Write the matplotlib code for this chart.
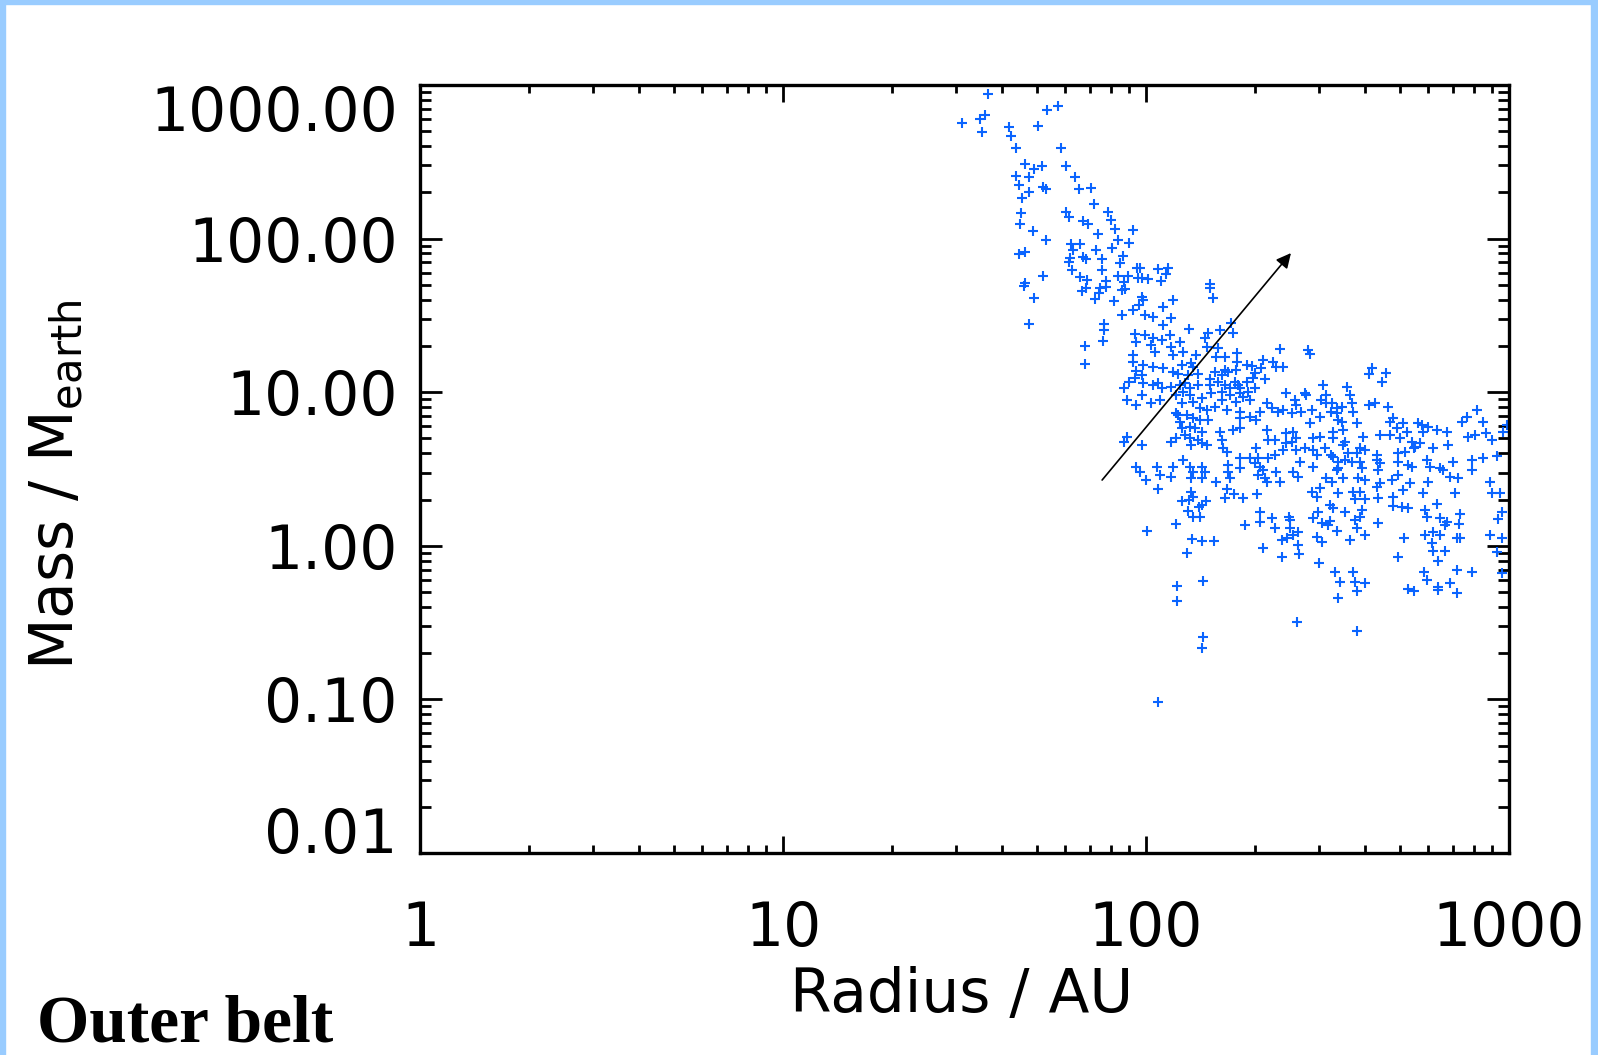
import matplotlib
matplotlib.use("Agg")
import matplotlib.pyplot as plt
from matplotlib.patches import Rectangle
from matplotlib.ticker import NullFormatter
import numpy as np

plt.rcParams["font.family"] = ["DejaVu Sans"]

# ── data: (log10 radius/AU, log10 mass/Mearth) ──
upper = np.array([
    [1.565, 2.941], [1.758, 2.863], [1.727, 2.837], [1.556, 2.805], [1.543, 2.779],
    [1.493, 2.753], [1.548, 2.694], [1.623, 2.727], [1.702, 2.733], [1.628, 2.668],
    [1.642, 2.590], [1.766, 2.590], [1.667, 2.486], [1.691, 2.453], [1.713, 2.473],
    [1.780, 2.473], [1.642, 2.408], [1.678, 2.401], [1.804, 2.401], [1.650, 2.349],
    [1.716, 2.336], [1.725, 2.323], [1.678, 2.303], [1.815, 2.323], [1.848, 2.329],
    [1.658, 2.264], [1.857, 2.225], [1.656, 2.167], [1.780, 2.173], [1.788, 2.141],
    [1.895, 2.173], [1.653, 2.095], [1.826, 2.115], [1.840, 2.095], [1.904, 2.121],
    [1.689, 2.049], [1.915, 2.062], [1.964, 2.056], [1.868, 2.030], [1.725, 1.991],
    [1.923, 1.991], [1.953, 1.971], [1.793, 1.965], [1.818, 1.965], [1.650, 1.900],
    [1.667, 1.913], [1.799, 1.926], [1.862, 1.926], [1.906, 1.939], [1.791, 1.874],
    [1.826, 1.880], [1.835, 1.867], [1.879, 1.867], [1.937, 1.887], [1.928, 1.841],
    [1.975, 1.809], [1.788, 1.846], [1.879, 1.796], [1.796, 1.796], [1.716, 1.757],
    [1.667, 1.711], [1.818, 1.750], [1.837, 1.730], [1.923, 1.757], [1.950, 1.757],
    [1.890, 1.724], [1.939, 1.717], [1.978, 1.743],
    [1.983, 1.809], [2.033, 1.802], [2.061, 1.809], [2.055, 1.770], [1.989, 1.743],
    [2.006, 1.737], [2.041, 1.724], [2.176, 1.704],
])

left_mid = np.array([
    [1.664, 1.691], [1.691, 1.613], [1.678, 1.444], [1.824, 1.659], [1.835, 1.678],
    [1.873, 1.678], [1.890, 1.685], [1.871, 1.646], [1.860, 1.607], [1.934, 1.665],
    [1.942, 1.672], [1.912, 1.594], [1.934, 1.503], [1.964, 1.535], [1.981, 1.568],
    [1.884, 1.444], [1.884, 1.405], [1.882, 1.333], [1.832, 1.301], [1.832, 1.184],
    [1.970, 1.379], [1.972, 1.327], [1.964, 1.242], [1.964, 1.197], [1.972, 1.138],
    [1.970, 1.092], [1.953, 1.066], [1.939, 1.027], [1.948, 0.949], [1.972, 0.917],
    [1.948, 0.708], [1.939, 0.676], [1.972, 0.513],
    [2.033, 0.370], [2.124, 0.350], [2.129, 0.318], [2.099, 0.292], [2.118, 0.298],
    [2.165, 0.292], [2.154, 0.266], [2.146, 0.253], [2.116, 0.227], [2.129, 0.188],
    [2.149, 0.188], [2.218, 0.311], [2.242, 0.337], [2.223, 0.370], [2.083, 0.142],
    [2.003, 0.096], [2.127, 0.044], [2.154, 0.031], [2.187, 0.031], [2.113, -0.047],
    [2.157, -0.229], [2.085, -0.262], [2.085, -0.359], [2.157, -0.594], [2.154, -0.665],
    [2.033, -1.017],
])

core = np.array([
    [2.176, 1.681], [2.185, 1.611], [1.988, 1.622], [1.992, 1.600], [2.075, 1.600],
    [2.070, 1.481], [2.047, 1.557], [1.997, 1.503], [2.020, 1.492], [2.047, 1.438],
    [2.119, 1.409], [2.203, 1.405], [2.240, 1.383], [2.235, 1.448], [2.171, 1.383],
    [2.162, 1.351], [2.066, 1.372], [1.997, 1.372], [2.020, 1.351], [2.043, 1.340],
    [2.093, 1.329], [2.015, 1.307], [2.070, 1.297], [2.024, 1.264], [2.075, 1.242],
    [2.102, 1.264], [2.139, 1.242], [2.167, 1.297], [2.199, 1.286], [2.194, 1.231],
    [2.217, 1.231], [2.251, 1.253], [2.251, 1.199], [2.369, 1.279], [2.447, 1.275],
    [2.453, 1.249], [2.321, 1.210], [2.350, 1.199], [2.378, 1.166], [2.358, 1.166],
    [2.277, 1.177], [2.291, 1.171], [2.249, 1.145], [2.318, 1.156], [1.992, 1.177],
    [2.020, 1.166], [2.047, 1.156], [2.098, 1.177], [2.125, 1.188], [2.130, 1.166],
    [2.190, 1.134], [2.217, 1.145], [2.226, 1.134], [2.208, 1.112], [2.075, 1.129],
    [2.089, 1.116], [2.116, 1.112], [2.144, 1.116], [1.988, 1.112], [2.300, 1.123],
    [2.295, 1.095], [2.327, 1.084], [2.277, 1.069], [2.254, 1.047], [2.245, 1.069],
    [1.992, 1.058], [2.020, 1.047], [2.033, 1.058], [2.043, 1.025], [2.070, 1.036],
    [2.093, 1.047], [2.107, 1.058], [2.121, 1.025], [2.144, 1.047], [2.176, 1.086],
    [2.176, 1.047], [2.199, 1.069], [2.217, 1.047], [2.231, 1.025], [2.258, 1.025],
    [2.281, 1.004], [2.300, 1.025], [2.268, 0.971], [2.286, 0.949], [2.249, 0.938],
    [2.258, 0.993], [2.387, 0.993], [2.442, 0.982], [2.437, 0.993], [2.488, 1.047],
    [2.497, 0.982], [2.483, 0.949], [2.410, 0.949], [2.414, 0.917], [2.378, 0.884],
    [2.346, 0.895], [2.332, 0.928], [2.313, 0.873], [2.304, 0.819], [2.364, 0.873],
    [2.401, 0.863], [2.428, 0.873], [2.456, 0.884], [2.479, 0.841], [2.497, 0.928],
    [2.511, 0.873], [2.525, 0.895], [1.988, 0.982], [2.015, 0.928], [2.038, 0.949],
    [2.084, 0.982], [2.102, 1.004], [2.121, 0.982], [2.153, 0.960], [2.180, 0.993],
    [2.208, 1.004], [2.231, 0.982], [2.098, 0.928], [2.130, 0.938], [2.148, 0.895],
    [2.167, 0.884], [2.190, 0.906], [2.222, 0.884], [2.208, 0.949], [2.258, 0.873],
    [2.286, 0.841], [2.258, 0.830], [2.084, 0.863], [2.089, 0.852], [2.112, 0.852],
    [2.130, 0.830], [2.148, 0.819], [2.093, 0.808], [2.121, 0.776], [2.134, 0.765],
    [2.153, 0.743], [2.171, 0.819], [2.203, 0.743], [2.240, 0.754], [2.258, 0.765],
    [2.098, 0.765], [2.107, 0.722], [2.084, 0.700], [2.070, 0.678], [2.121, 0.700],
    [2.144, 0.689], [2.125, 0.656], [2.153, 0.667], [2.167, 0.656], [2.208, 0.689],
    [2.213, 0.635], [2.222, 0.613], [2.258, 0.570], [2.286, 0.570], [2.309, 0.570],
    [2.300, 0.537], [2.313, 0.515], [2.336, 0.570], [2.355, 0.591], [2.378, 0.624],
    [2.401, 0.678], [2.414, 0.700], [2.387, 0.667], [2.414, 0.624], [2.437, 0.635],
    [2.460, 0.624], [2.470, 0.591], [2.492, 0.635], [2.515, 0.700], [2.511, 0.591],
    [2.460, 0.700], [2.479, 0.711], [2.451, 0.797], [2.387, 0.732], [2.405, 0.743],
    [2.332, 0.754], [2.336, 0.689], [2.355, 0.689], [2.304, 0.635], [2.323, 0.494],
    [2.327, 0.439], [2.309, 0.461], [2.332, 0.418], [2.359, 0.483], [2.369, 0.418],
    [2.405, 0.483], [2.419, 0.450], [2.424, 0.548], [2.460, 0.515], [2.497, 0.439],
    [2.525, 0.494], [2.529, 0.548], [1.988, 0.656], [1.983, 0.483], [2.029, 0.515],
    [2.038, 0.461], [2.070, 0.450], [2.001, 0.429], [2.075, 0.515], [2.102, 0.559],
    [2.121, 0.515], [2.130, 0.483], [2.125, 0.439], [2.153, 0.515], [2.162, 0.483],
    [2.153, 0.439], [2.226, 0.526], [2.226, 0.483], [2.231, 0.439], [2.194, 0.418],
    [2.258, 0.504],
])

right_mid = np.array([
    [2.622, 1.156], [2.615, 1.119], [2.661, 1.123], [2.651, 1.064], [2.555, 1.032],
    [2.562, 0.982], [2.567, 0.928], [2.571, 0.873], [2.512, 0.928], [2.539, 0.906],
    [2.525, 0.863], [2.530, 0.819], [2.539, 0.808], [2.580, 0.797], [2.613, 0.917],
    [2.631, 0.928], [2.668, 0.906], [2.681, 0.830], [2.672, 0.808], [2.709, 0.797],
    [2.691, 0.765], [2.750, 0.797], [2.759, 0.787], [2.778, 0.776], [2.801, 0.754],
    [2.828, 0.743], [2.764, 0.743], [2.718, 0.743], [2.516, 0.743], [2.544, 0.754],
    [2.645, 0.722], [2.672, 0.722], [2.700, 0.700], [2.732, 0.678], [2.755, 0.667],
    [2.737, 0.635], [2.741, 0.646], [2.792, 0.635], [2.833, 0.656], [2.599, 0.711],
    [2.548, 0.678], [2.544, 0.656], [2.590, 0.635], [2.603, 0.624], [2.580, 0.602],
    [2.557, 0.602], [2.516, 0.580], [2.548, 0.559], [2.567, 0.548], [2.590, 0.548],
    [2.594, 0.504], [2.636, 0.591], [2.636, 0.559], [2.645, 0.537], [2.640, 0.494],
    [2.695, 0.602], [2.714, 0.613], [2.695, 0.548], [2.723, 0.526], [2.732, 0.515],
    [2.773, 0.559], [2.782, 0.515], [2.810, 0.504], [2.819, 0.494], [2.847, 0.548],
    [2.530, 0.504], [2.512, 0.418], [2.544, 0.439], [2.585, 0.439], [2.603, 0.429],
    [2.645, 0.407], [2.677, 0.429], [2.695, 0.461], [2.727, 0.407], [2.778, 0.418],
    [2.837, 0.450], [2.860, 0.439], [2.911, 0.884], [2.883, 0.841], [2.870, 0.808],
    [2.929, 0.808], [2.888, 0.711], [2.906, 0.722], [2.938, 0.732], [2.952, 0.689],
    [2.984, 0.743], [2.994, 0.787], [2.897, 0.559], [2.929, 0.570], [2.966, 0.587],
    [2.948, 0.418], [2.897, 0.494],
])

lower = np.array([
    [2.266, 0.314], [2.273, 0.136], [2.314, 0.222], [2.314, 0.157], [2.305, 0.335],
    [2.346, 0.179], [2.355, 0.114], [2.395, 0.190], [2.397, 0.168], [2.397, 0.114],
    [2.374, 0.038], [2.388, 0.049], [2.406, 0.071], [2.420, 0.092], [2.420, 0.005],
    [2.422, -0.055], [2.321, -0.016], [2.374, -0.071], [2.461, 0.179], [2.475, 0.222],
    [2.484, 0.146], [2.502, 0.136], [2.507, 0.162], [2.527, 0.097], [2.548, 0.222],
    [2.576, 0.168], [2.580, 0.114], [2.594, 0.233], [2.589, 0.190], [2.470, 0.060],
    [2.484, 0.027], [2.562, 0.038], [2.603, 0.071], [2.477, -0.114], [2.521, -0.173],
    [2.534, -0.238], [2.571, -0.173], [2.576, -0.238], [2.603, -0.244], [2.582, -0.294],
    [2.530, -0.342], [2.417, -0.494], [2.582, -0.552], [2.639, 0.146], [2.681, 0.320],
    [2.681, 0.261], [2.704, 0.255], [2.723, 0.248], [2.768, 0.233], [2.773, 0.190],
    [2.801, 0.270], [2.810, 0.179], [2.828, 0.157], [2.824, 0.136], [2.865, 0.205],
    [2.863, 0.140], [2.856, 0.049], [2.865, 0.053], [2.810, 0.071], [2.768, 0.071],
    [2.791, 0.092], [2.787, 0.016], [2.790, -0.034], [2.824, -0.034], [2.805, -0.099],
    [2.711, 0.053], [2.695, -0.071], [2.767, -0.168], [2.773, -0.222], [2.805, -0.266],
    [2.805, -0.288], [2.837, -0.244], [2.856, -0.157], [2.856, -0.309], [2.897, -0.173],
    [2.723, -0.283], [2.738, -0.294], [2.947, 0.071], [2.966, -0.038], [2.980, -0.179],
    [2.980, 0.222], [2.970, 0.172], [2.982, 0.049], [2.952, 0.342], [2.975, 0.342],
    [2.640, 0.309], [2.603, 0.305], [2.576, 0.305], [2.507, 0.266], [2.516, 0.244],
    [2.479, 0.374], [2.470, 0.320], [2.456, 0.353], [2.530, 0.342], [2.571, 0.353],
    [2.589, 0.353], [2.635, 0.385], [2.709, 0.363], [2.764, 0.342], [2.851, 0.342],
])

# arrow: tail and head (radius AU, mass Mearth)
arrow_tail = (75.7, 2.68)
arrow_head = (250.8, 80.5)

x_ticks = [1, 10, 100, 1000]
x_ticklabels = ["1", "10", "100", "1000"]
y_ticks = [0.01, 0.1, 1, 10, 100, 1000]
y_ticklabels = ["0.01", "0.10", "1.00", "10.00", "100.00", "1000.00"]

pts = np.vstack([upper, left_mid, core, right_mid, lower])
radius = 10 ** pts[:, 0]
mass = 10 ** pts[:, 1]

W, H = 1598, 1055
fig = plt.figure(figsize=(W / 100, H / 100), dpi=100)
fig.patch.set_facecolor("white")
ax = fig.add_axes([420 / W, 1 - 853 / H, 1089 / W, 768 / H])

ax.plot(radius, mass, linestyle="none", marker="+", ms=7, mew=1.5,
        color="#0a64ff")

ax.annotate("", xy=arrow_head, xytext=arrow_tail,
            arrowprops=dict(arrowstyle="-|>", color="black", lw=1.2,
                            mutation_scale=22, shrinkA=0, shrinkB=0))

ax.set_xscale("log")
ax.set_yscale("log")
ax.set_xlim(1, 1000)
ax.set_ylim(0.01, 1000)
ax.set_xticks(x_ticks)
ax.set_xticklabels(x_ticklabels)
ax.set_yticks(y_ticks)
ax.set_yticklabels(y_ticklabels)
ax.xaxis.set_minor_formatter(NullFormatter())
ax.yaxis.set_minor_formatter(NullFormatter())

for s in ax.spines.values():
    s.set_linewidth(2.4)
ax.tick_params(which="both", direction="in", top=True, right=True,
               width=2.0, labelsize=43, colors="black")
ax.tick_params(axis="x", which="major", length=12, pad=34)
ax.tick_params(axis="x", which="minor", length=6)
ax.tick_params(axis="y", which="major", length=16, pad=16)
ax.tick_params(axis="y", which="minor", length=8)

ylabs = ax.get_yticklabels()
ylabs[-1].set_va("top")
ylabs[0].set_va("baseline")

fig.text(962 / W, 1 - 996 / H, "Radius / AU", ha="center", va="center",
         fontsize=43)
fig.text(57 / W, 1 - 485 / H, r"Mass / $\mathregular{M_{earth}}$",
         ha="center", va="center", rotation=90, fontsize=43)

fig.text(37 / W, 1 - 1042 / H, "Outer belt", family="Liberation Serif",
         fontweight="bold", fontsize=48.5, ha="left", va="baseline")

# light blue frame
blue = "#99ccff"
fig.patches.append(Rectangle((0, 0), 5 / W, 1, transform=fig.transFigure,
                             color=blue, zorder=0))
fig.patches.append(Rectangle((0, 1 - 4 / H), 1, 4 / H, transform=fig.transFigure,
                             color=blue, zorder=0))
fig.patches.append(Rectangle((1 - 7 / W, 0), 7 / W, 1, transform=fig.transFigure,
                             color=blue, zorder=0))

fig.savefig("out.png", dpi=100, facecolor="white")
